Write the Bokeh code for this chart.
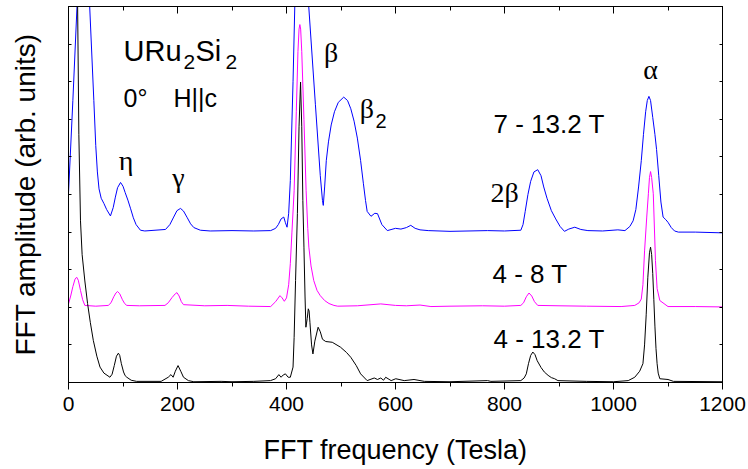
from bokeh.plotting import figure
from bokeh.models import Range1d, LinearAxis, SingleIntervalTicker, FixedTicker, Label
from bokeh.embed import file_html
from bokeh.resources import INLINE

# ---- data ----
blue_x = [0, 8, 15.5, 22, 28, 34, 39, 46.5, 50, 53, 56, 60, 65, 70, 77, 82, 86, 90, 95.5, 100,
          104, 109, 114, 119, 124, 132, 140, 178, 186, 193, 199, 205.5, 211, 218, 224, 230, 242,
          260, 300, 340, 371, 380, 385, 390, 395, 398, 401, 404, 407, 412, 416, 425, 435, 441,
          453, 462, 466, 467.5, 470, 473, 477, 482, 488, 495, 505, 512, 518, 524, 530, 536, 541,
          545, 548, 555, 562, 567, 575, 585, 600, 610, 620, 628, 636, 645, 660, 700, 769, 800,
          830, 834, 838, 843, 848, 854, 861, 867, 872, 878, 886, 894, 902, 910, 918, 929, 940,
          953, 980, 1008, 1021, 1030, 1036, 1041, 1046, 1051, 1055, 1059, 1062, 1065, 1068,
          1072, 1076, 1079, 1083, 1087, 1091, 1096, 1100, 1106, 1112, 1119, 1150, 1200]
blue_y = [5.03, 7.5, 9.96, 12.5, 13.0, 12.0, 9.96, 7.5, 6.3, 5.6, 5.15, 4.9, 4.76, 4.6, 4.43,
          4.65, 4.93, 5.18, 5.32, 5.22, 5.05, 4.85, 4.62, 4.38, 4.2, 4.05, 4.03, 4.07, 4.2, 4.4,
          4.57, 4.63, 4.56, 4.38, 4.22, 4.12, 4.05, 4.03, 4.04, 4.03, 4.04, 4.1, 4.2, 4.35, 4.40,
          4.25, 4.13, 4.5, 5.37, 8.0, 10.5, 13.0, 11.0, 9.96, 7.4, 5.5, 4.84, 4.71, 5.2, 5.9,
          6.4, 6.85, 7.2, 7.45, 7.59, 7.5, 7.28, 6.95, 6.5, 5.9, 5.3, 4.84, 4.55, 4.42, 4.5,
          4.49, 4.2, 4.04, 4.1, 4.08, 4.12, 4.18, 4.1, 4.06, 4.04, 4.02, 4.04, 4.03, 4.05, 4.2,
          4.55, 5.0, 5.35, 5.6, 5.66, 5.5, 5.2, 4.9, 4.57, 4.35, 4.15, 4.02, 4.08, 4.13, 4.07,
          4.04, 4.03, 4.06, 4.04, 4.15, 4.3, 4.6, 5.2, 5.9, 6.6, 7.2, 7.5, 7.61, 7.5, 7.05, 6.6,
          6.2, 5.5, 4.8, 4.40, 4.33, 4.26, 4.12, 4.03, 4.0, 4.0, 3.98]

magenta_x = [0, 4, 8, 12, 15, 18, 22, 26, 30, 50, 73, 78, 83, 87, 90, 94, 99, 103, 107, 130,
             177, 183, 190, 196, 199, 203, 207, 211, 250, 291, 330, 371, 380, 388, 392, 396, 400,
             404, 407, 410, 414, 418, 421, 423, 424.5, 426, 428, 432, 436, 439, 441, 445, 450,
             456, 462, 470, 478, 487, 494, 530, 573, 600, 620, 645, 665, 700, 760, 800, 830, 835,
             840, 845, 850, 855, 861, 900, 950, 1014, 1039, 1047, 1051, 1054, 1057, 1061, 1064,
             1066, 1068, 1070, 1073, 1077, 1080, 1085, 1100, 1150, 1200]
magenta_y = [2.09, 2.3, 2.55, 2.75, 2.8, 2.72, 2.45, 2.2, 2.05, 2.03, 2.05, 2.12, 2.28, 2.38, 2.42,
             2.36, 2.2, 2.1, 2.05, 2.04, 2.05, 2.12, 2.26, 2.36, 2.39, 2.3, 2.15, 2.07, 2.04, 2.05,
             2.03, 2.02, 2.15, 2.31, 2.25, 2.16, 2.25, 2.6, 3.16, 4.0, 5.1, 7.2, 8.8, 9.4, 9.52,
             9.4, 8.8, 7.0, 5.1, 4.1, 3.6, 3.1, 2.71, 2.45, 2.31, 2.18, 2.1, 2.05, 2.03, 2.04,
             2.09, 2.05, 2.04, 2.06, 2.02, 2.03, 2.04, 2.03, 2.05, 2.12, 2.28, 2.38, 2.3, 2.15,
             2.05, 2.04, 2.03, 2.02, 2.05, 2.12, 2.22, 2.6, 3.5, 4.4, 5.02, 5.45, 5.61, 5.45, 5.02,
             3.24, 2.5, 2.18, 2.02, 2.02, 2.01]

black_x = [0, 8, 12, 16.8, 19, 22, 25, 30, 35, 40, 45.5, 52, 57.8, 65, 76, 80, 84, 88, 91.5, 94,
           97, 101, 104, 107, 115, 125, 170, 183, 188, 192, 196, 201, 206, 211, 220, 230, 280,
           300, 340, 370.6, 380, 386, 390, 394, 398, 403, 407, 412, 414, 416.6, 420, 423, 425.8,
           428, 430, 432, 434, 435.6, 438, 440, 441.5, 443, 446, 448.5, 452, 458, 462, 466, 472,
           484, 499, 510, 518, 528, 536, 548, 561, 567, 573, 578, 582, 592, 600.5, 616, 634, 653,
           700, 769, 775, 830, 836, 840, 844, 848, 852, 856, 860, 867, 873, 880, 886, 892, 898,
           950, 1000, 1027, 1039, 1048, 1054, 1057, 1060, 1063, 1066, 1068, 1070, 1072, 1074,
           1076, 1078, 1080, 1082, 1085, 1100, 1110, 1200]
black_y = [16, 14, 13, 9.96, 6.6, 4.3, 3.4, 2.7, 2.1, 1.6, 1.12, 0.7, 0.41, 0.25, 0.14, 0.22,
           0.45, 0.7, 0.78, 0.72, 0.5, 0.28, 0.18, 0.14, 0.06, 0.03, 0.03, 0.14, 0.21, 0.14, 0.3,
           0.45, 0.3, 0.14, 0.05, 0.02, 0.03, 0.02, 0.03, 0.05, 0.1, 0.21, 0.14, 0.2, 0.23, 0.14,
           0.14, 0.41, 1.2, 2.71, 4.49, 6.8, 7.99, 6.8, 4.84, 3.6, 2.3, 1.47, 1.7, 1.96, 1.9, 1.6,
           1.0, 0.76, 1.1, 1.47, 1.35, 1.15, 1.09, 1.07, 0.94, 0.8, 0.67, 0.45, 0.23, 0.05, 0.12,
           0.08, 0.12, 0.06, 0.14, 0.05, 0.10, 0.05, 0.08, 0.03, 0.02, 0.05, 0.03, 0.05, 0.12,
           0.23, 0.5, 0.72, 0.81, 0.74, 0.58, 0.4, 0.28, 0.19, 0.13, 0.1, 0.05, 0.03, 0.02, 0.05,
           0.14, 0.3, 0.5, 1.0, 1.8, 2.8, 3.45, 3.6, 3.4, 2.9, 2.2, 1.5, 0.9, 0.5, 0.25, 0.10,
           0.08, 0.03, 0.02]

x_major_ticks = [0, 200, 400, 600, 800, 1000, 1200]
x_minor_ticks = [100, 300, 500, 700, 900, 1100]
y_ticks = [0, 1, 2, 3, 4, 5, 6, 7, 8, 9, 10]

SANS = "Liberation Sans"
SERIF = "Liberation Serif"

p = figure(width=748, height=469, output_backend="svg", toolbar_location=None,
           x_range=Range1d(0, 1200), y_range=Range1d(0, 10),
           min_border_left=68, min_border_right=26, min_border_top=6, min_border_bottom=87,
           x_axis_location=None, y_axis_location=None)
p.xgrid.visible = False
p.ygrid.visible = False
p.outline_line_color = "black"
p.outline_line_width = 1
p.background_fill_color = "white"
p.border_fill_color = "white"

bottom = LinearAxis(ticker=SingleIntervalTicker(interval=200, num_minor_ticks=2),
                    axis_label="FFT frequency (Tesla)",
                    axis_label_text_font=SANS, axis_label_text_font_size="27px",
                    axis_label_text_font_style="normal", axis_label_text_color="black",
                    axis_label_standoff=21,
                    major_label_text_font=SANS, major_label_text_font_size="21px",
                    major_label_text_color="black", major_label_standoff=7,
                    major_tick_in=0, major_tick_out=7, minor_tick_in=0, minor_tick_out=4,
                    axis_line_color="black", major_tick_line_color="black",
                    minor_tick_line_color="black")
p.add_layout(bottom, "below")


def bare_axis(minor, length):
    # axis that only draws (minor-style) tick marks, with no tick labels
    return LinearAxis(ticker=FixedTicker(ticks=[], minor_ticks=minor),
                      major_label_standoff=0, major_tick_in=0, major_tick_out=0,
                      minor_tick_in=length, minor_tick_out=0,
                      axis_line_color="black", minor_tick_line_color="black")


p.add_layout(bare_axis(x_major_ticks, 7), "above")
p.add_layout(bare_axis(x_minor_ticks, 4), "above")

left = LinearAxis(ticker=FixedTicker(ticks=[], minor_ticks=y_ticks),
                  axis_label="FFT amplitude (arb. units)",
                  axis_label_text_font=SANS, axis_label_text_font_size="28px",
                  axis_label_text_font_style="normal", axis_label_text_color="black",
                  axis_label_standoff=28, major_label_standoff=0,
                  major_tick_in=0, major_tick_out=0, minor_tick_in=3, minor_tick_out=0,
                  axis_line_color="black", minor_tick_line_color="black")
p.add_layout(left, "left")
p.add_layout(bare_axis(y_ticks, 3), "right")

p.line(blue_x, blue_y, line_color="#0000ff", line_width=1)
p.line(magenta_x, magenta_y, line_color="#ff00ff", line_width=1)
p.line(black_x, black_y, line_color="black", line_width=1)


def lab(x, y, text, font=SANS, size="26px", align="left"):
    p.add_layout(Label(x=x, y=y, text=text, text_font=font, text_font_size=size,
                       text_align=align, text_baseline="alphabetic", text_color="black"))


# sample label
lab(100.9, 8.815, "URu", size="29px")
lab(211, 8.52, "2", size="21px")
lab(233, 8.815, "Si", size="29px")
lab(288, 8.52, "2", size="21px")
lab(100.9, 7.56, "0°", size="25px")
lab(192.7, 7.56, "H||c", size="25px")
# Greek peak labels
lab(105.5, 5.90, "η", font=SERIF, size="28px", align="center")
lab(201.8, 5.45, "γ", font=SERIF, size="28px", align="center")
lab(481.7, 8.775, "β", font=SERIF, size="28px", align="center")
lab(547.7, 7.28, "β", font=SERIF, size="28px", align="center")
lab(563.3, 6.96, "2", size="20px")
lab(1067.9, 8.32, "α", font=SERIF, size="28px", align="center")
lab(774.3, 5.06, "2β", font=SERIF, size="28px")
# field-range labels
lab(779.8, 6.87, "7 - 13.2 T")
lab(778, 2.88, "4 - 8 T")
lab(779.8, 1.17, "4 - 13.2 T")

open("out.html", "w").write(file_html(p, INLINE))
